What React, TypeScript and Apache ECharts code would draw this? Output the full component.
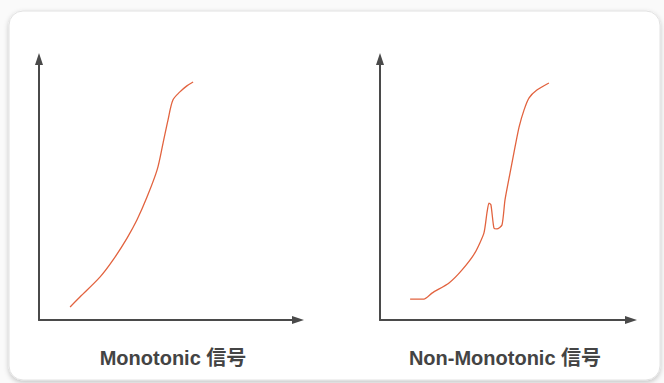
import React, { useEffect, useRef } from "react";
import * as echarts from "echarts";

const leftTitle = "Monotonic 信号";
const rightTitle = "Non-Monotonic 信号";

const monotonicX = [12.0, 15.8, 23.6, 28.6, 34.0, 37.8, 41.7, 45.6, 47.9, 49.8, 51.7, 54.4, 57.1, 59.5];
const monotonicY = [5.0, 8.8, 16.5, 23.0, 31.4, 38.3, 47.1, 57.5, 67.8, 76.6, 84.3, 87.4, 89.7, 91.2];

const nonMonoX = [12.0, 17.5, 20.7, 27.5, 32.7, 37.8, 41.4, 42.6, 43.4, 44.2, 45.4, 46.6, 48.6, 49.8, 51.8, 53.8, 55.4, 57.4, 59.4, 62.5, 67.3];
const nonMonoY = [8.0, 8.0, 10.3, 14.2, 19.2, 25.7, 33.3, 41.0, 44.8, 44.1, 35.2, 34.9, 36.4, 46.0, 56.3, 66.3, 73.9, 80.5, 85.1, 88.1, 90.8];

const axisStyle = {
  show: true,
  symbol: ["none", "triangle"],
  symbolSize: [8, 12],
  lineStyle: { color: "#4a4a4a", width: 2 },
};

function makeAxis(gridIndex: number) {
  return {
    type: "value",
    gridIndex,
    min: 0,
    max: 100,
    axisLine: axisStyle,
    axisTick: { show: false },
    axisLabel: { show: false },
    splitLine: { show: false },
  };
}

export default function App() {
  const ref = useRef<HTMLDivElement>(null);
  useEffect(() => {
    document.body.style.margin = "0";
    const chart = echarts.init(ref.current!, null, { renderer: "svg" });
    const labelFont = "'Liberation Sans', 'Noto Sans CJK JP', sans-serif";
    chart.setOption({
      animation: false,
      backgroundColor: "#fafafa",
      graphic: [
        {
          type: "rect",
          z: -10,
          shape: { x: 9, y: 11, width: 651, height: 369, r: 14 },
          style: {
            fill: "#ffffff",
            stroke: "#e2e2e2",
            lineWidth: 1,
            shadowBlur: 5,
            shadowOffsetY: 2,
            shadowColor: "rgba(0,0,0,0.22)",
          },
        },
        {
          type: "text",
          x: 173,
          y: 358,
          style: {
            text: leftTitle,
            font: `bold 20px ${labelFont}`,
            fill: "#444444",
            align: "center",
            verticalAlign: "middle",
          },
        },
        {
          type: "text",
          x: 505,
          y: 358,
          style: {
            text: rightTitle,
            font: `bold 20px ${labelFont}`,
            fill: "#444444",
            align: "center",
            verticalAlign: "middle",
          },
        },
      ],
      grid: [
        { left: 39, top: 59, width: 259, height: 261 },
        { left: 380, top: 59, width: 251, height: 261 },
      ],
      xAxis: [makeAxis(0), makeAxis(1)],
      yAxis: [makeAxis(0), makeAxis(1)],
      series: [
        {
          type: "line",
          xAxisIndex: 0,
          yAxisIndex: 0,
          data: monotonicX.map((x, i) => [x, monotonicY[i]]),
          showSymbol: false,
          smooth: 0.3,
          lineStyle: { color: "#e2633f", width: 1.3 },
        },
        {
          type: "line",
          xAxisIndex: 1,
          yAxisIndex: 1,
          data: nonMonoX.map((x, i) => [x, nonMonoY[i]]),
          showSymbol: false,
          smooth: 0.2,
          lineStyle: { color: "#e2633f", width: 1.3 },
        },
      ],
    });
    return () => chart.dispose();
  }, []);
  return <div ref={ref} style={{ width: 664, height: 383 }} />;
}
